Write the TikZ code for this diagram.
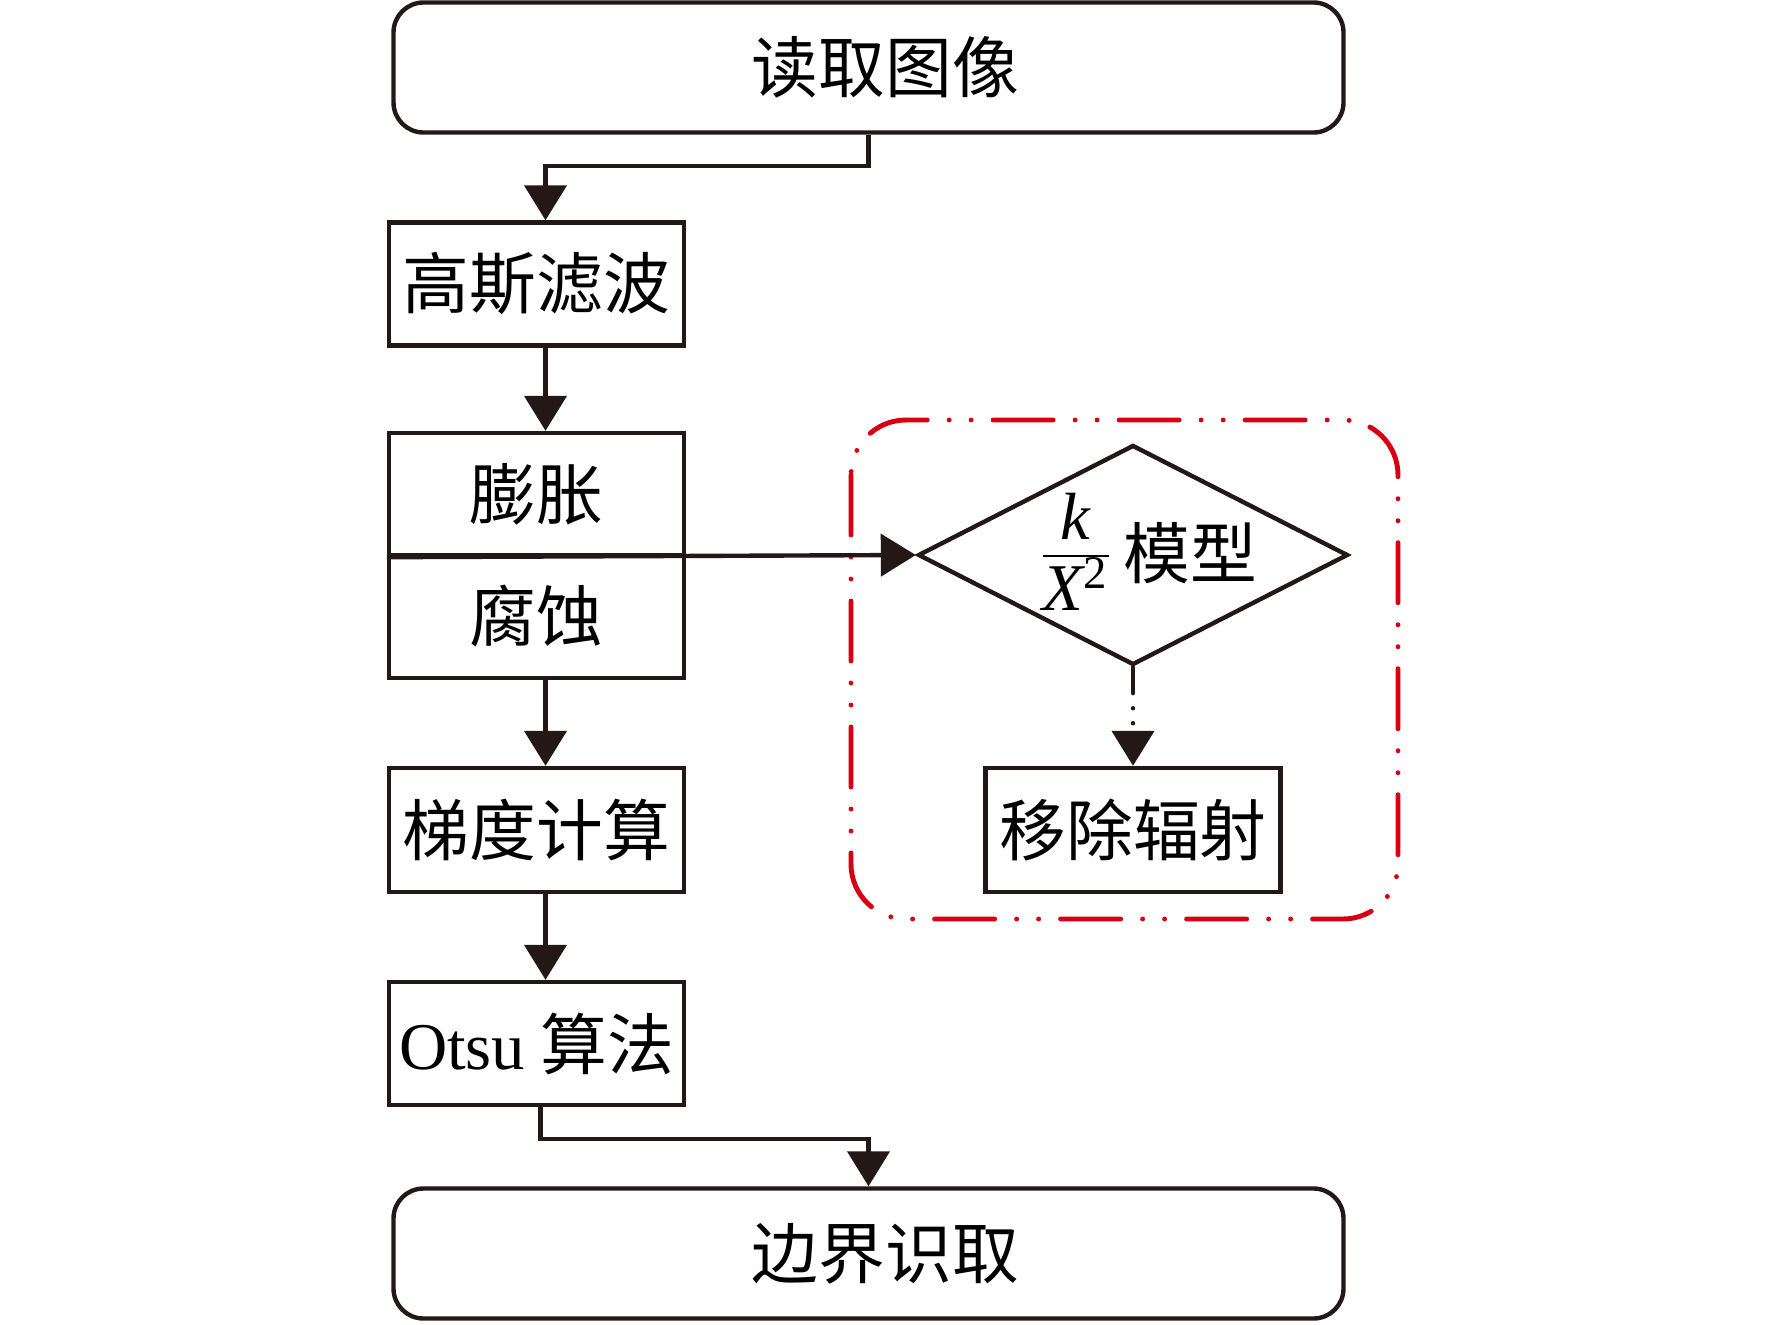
\documentclass[tikz,border=0pt]{standalone}
\usepackage{fontspec}
\setmainfont{Liberation Serif}
\newfontfamily\cjk{Noto Sans CJK SC}
\usetikzlibrary{positioning, calc, shapes, arrows.meta}
\definecolor{ink}{RGB}{35,24,21}
\definecolor{framered}{RGB}{215,0,18}

\begin{document}
\begin{tikzpicture}[node distance=2.135cm, on grid, line width=1.25pt,
		font=\fontsize{19}{22}\selectfont\cjk,
		box/.style={draw=ink, rectangle, minimum width=2.95cm, minimum height=1.23cm, inner sep=0pt},
		term/.style={box, rounded corners=0.3cm, minimum width=9.5cm, minimum height=1.3cm,
			execute at begin node=\hspace{0.34cm}},
		test/.style={draw=ink, diamond, shape aspect=2, minimum width=4.3cm, minimum height=2.2cm, inner sep=0pt},
		link/.style={draw=ink, -{Triangle[length=0.35cm, width=0.42cm]}},
		group/.style={draw=framered, line width=1.4pt, line cap=round, rounded corners=0.55cm,
			dash pattern=on 0.6cm off 0.22cm on 0pt off 0.22cm on 0pt off 0.22cm}]
	\useasboundingbox (0,0) rectangle (17.72,-13.25);

	\node[term]							(A) at (8.685,-0.675)	{读取图像};
	\node[box]							(B) at (5.365,-2.84)	{高斯滤波};
	\node[box, minimum height=1.22cm]	(C) [below=2.1cm of B]	{膨胀};
	\node[box]							(D) [below=1.225cm of C] {腐蚀};
	\node[box, minimum height=1.24cm]	(E) [below=of D]		{梯度计算};
	\node[box]							(F) [below=of E]		{{\rmfamily Otsu} 算法};
	\node[term]							(G) at (8.685,-12.535)	{边界识取};
	\node[test]							(H) at (11.33,-5.55)
		{\raisebox{-0.23cm}[0.4cm][0.4cm]{\makebox[1.8cm]{\hspace{0.3cm}%
			\raisebox{0.07cm}{$\frac{\mbox{\rmfamily\itshape k\rule[-0.14cm]{0pt}{0pt}}}
				{\mbox{\rmfamily\itshape X\textsuperscript{\upshape 2}\rule{0pt}{0.5cm}}}$}\,模型}}};
	\node[box, minimum height=1.24cm]	(I) [below=2.75cm of H]	{移除辐射};

	%分组框:
	\draw[group] (8.51,-4.20) rectangle (13.98,-9.19);

	%连线:
	\draw[link] (A.south) -- ++(0,-0.31) -| ([xshift=0.09cm]B.north);
	\path
	([xshift=0.09cm]B.south)	edge[link]	([xshift=0.09cm]C.north)
	([xshift=0.09cm]D.south)	edge[link]	([xshift=0.09cm]E.north)
	([xshift=0.09cm]E.south)	edge[link]	([xshift=0.09cm]F.north)
	(C.south west)				edge[link]	(H.west);
	\draw[link] ([xshift=0.04cm]F.south) -- ++(0,-0.32) -| (G.north);
	\draw[link, line cap=round, dash pattern=on 0.26cm off 0.15cm on 0pt off 0.15cm on 0pt off 1cm]
		(H.south) -- (I.north);
\end{tikzpicture}
\end{document}
